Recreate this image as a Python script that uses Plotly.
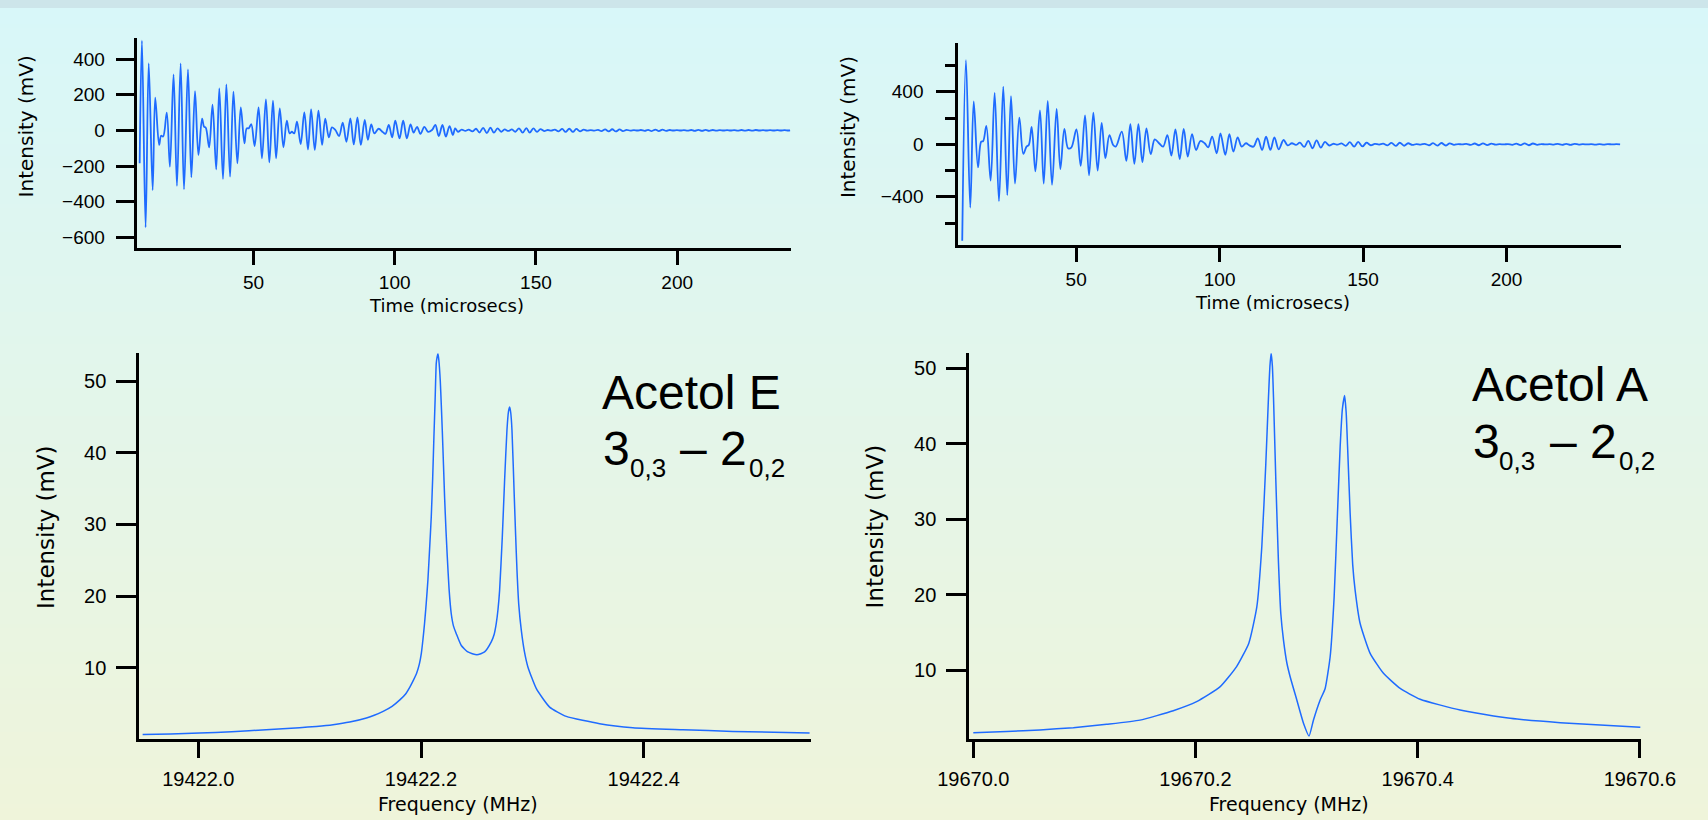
import plotly.graph_objects as go

# ---------------- data ----------------
# Free induction decay, Acetol E (time in microseconds, signal in mV)
fid_e_time = [
    9.7, 10.5, 11.8, 12.9, 14.3, 15.2, 16.6, 17.3, 18.0, 19.3, 20.4, 21.7, 22.9, 24.2, 25.4,
    26.8, 28.0, 29.3, 30.5, 31.8, 32.5, 33.1, 34.3, 35.5, 36.8, 37.9, 39.2, 40.4, 41.7, 42.9,
    44.3, 45.5, 46.8, 47.6, 48.3, 49.2, 50.4, 51.8, 53.0, 54.4, 55.6, 56.9, 58.0, 59.3, 60.6,
    61.8, 62.8, 63.6, 64.4, 65.4, 66.7, 68.0, 69.3, 70.4, 71.7, 73.0, 74.3, 75.4, 76.7, 77.8,
    79.0, 80.3, 81.6, 82.9, 84.3, 85.5, 86.8, 88.0, 89.4, 90.5, 91.7, 92.8, 94.3, 95.8, 96.7,
    97.9, 99.1, 100.2, 101.7, 103.0, 104.3, 105.6, 106.7, 107.9, 109.1, 110.5, 111.8, 113.2,
    114.4, 115.6, 116.9, 118.1, 119.4, 120.6, 121.4,
    122.4, 123.7, 125.0, 126.2, 127.5, 128.8, 130.0, 131.3, 132.6, 133.9, 135.1, 136.4, 137.7,
    138.9, 140.2, 141.5, 142.7, 144.0, 145.3, 146.6, 147.8, 149.1, 150.4, 151.6, 152.9, 154.2,
    155.4, 156.7, 158.0, 159.3, 160.5, 161.8, 163.1, 164.3, 165.6, 166.9, 168.1, 169.4, 170.7,
    172.0, 173.2, 174.5, 175.8, 177.0, 178.3, 179.6, 180.8, 182.1, 183.4, 184.7, 185.9, 187.2,
    188.5, 189.7, 191.0, 192.3, 193.5, 194.8, 196.1, 197.4, 198.6, 199.9, 201.2, 202.4, 203.7,
    205.0, 206.2, 207.5, 208.8, 210.1, 211.3, 212.6, 213.9, 215.1, 216.4, 217.7, 218.9, 220.2,
    221.5, 222.8, 224.0, 225.3, 226.6, 227.8, 229.1, 230.4, 231.6, 232.9, 234.2, 235.5, 236.7,
    238.0, 239.3, 240.0,
]
fid_e_signal = [
    -185, 503, -544, 376, -335, 183, -82, -30, -35, 99, -204, 314, -312, 376, -331,
    342, -264, 220, -138, 65, 20, 15, -95, 144, -219, 235, -273, 258, -260, 217,
    -185, 129, -73, 11, 11, 35, -88, 129, -157, 174, -180, 166, -157, 123, -95,
    54, -17, -8, -17, 49, -77, 101, -107, 118, -110, 110, -82, 65, -39, 17,
    2, -32, 43, -64, 67, -79, 73, -82, 58, -54, 34, -17, 9, -10, -20,
    30, -39, 54, -45, 54, -45, 34, -13, 20, -20, 20, -8, 2,
    30, -32, 30, -35, 24, -26, 11,
    -8, 4, -3, 4, -6, 9, -12, 14, -15, 15, -13, 11, -8,
    5, -3, 5, -8, 11, -13, 13, -13, 11, -9, 7, -4, 2,
    -2, 4, -6, 8, -9, 9, -9, 8, -6, 4, -2, 1, -2,
    3, -4, 5, -6, 6, -6, 5, -4, 3, -2, 1, -1, 2,
    -3, 3, -4, 4, -4, 4, -3, 2, -1, 1, -1, 1, -2,
    2, -3, 3, -3, 3, -3, 2, -2, 1, -1, 1, -1, 1,
    -2, 2, -2, 2, -2, 2, -1, 1, -1, 1, -1, 1, -1,
    1, -1, 0,
]

# Free induction decay, Acetol A
fid_a_time = [
    10.3, 11.6, 13.1, 14.3, 15.8, 16.9, 17.6, 18.7, 20.2, 21.6, 23.1, 24.6, 26.0, 27.3, 28.7,
    30.2, 31.6, 32.7, 33.5, 34.5, 35.8, 37.4, 38.7, 40.1, 41.6, 43.2, 44.5, 45.9, 47.2, 48.3,
    50.1, 51.6, 53.1, 54.5, 56.0, 57.5, 58.9, 60.2, 61.6, 62.9, 63.8, 65.9, 67.5, 68.9, 70.3,
    71.7, 73.1, 74.5, 76.0, 77.4, 78.9, 80.3, 81.8, 83.2, 84.6, 86.1, 87.5, 88.9, 90.4, 91.8,
    93.3, 94.8, 96.0, 97.4, 99.0, 100.3, 102.0, 103.4, 104.8, 106.3, 107.7, 109.2, 110.4, 111.8,
    113.3, 114.8, 116.2, 117.7, 119.1, 120.6, 122.3, 123.7, 125.2,
    126.6, 128.0, 129.5, 130.9, 132.4, 133.8, 135.3, 136.7, 138.2, 139.6, 141.1, 142.5, 144.0,
    145.4, 146.9, 148.3, 149.8, 151.2, 152.7, 154.1, 155.6, 157.0, 158.5, 159.9, 161.4, 162.8,
    164.3, 165.7, 167.2, 168.6, 170.1, 171.5, 173.0, 174.4, 175.9, 177.3, 178.8, 180.2, 181.7,
    183.1, 184.6, 186.0, 187.5, 188.9, 190.4, 191.8, 193.3, 194.7, 196.2, 197.6, 199.1, 200.5,
    202.0, 203.4, 204.9, 206.3, 207.8, 209.2, 210.7, 212.1, 213.6, 215.0, 216.5, 217.9, 219.4,
    220.8, 222.3, 223.7, 225.2, 226.6, 228.1, 229.5, 231.0, 232.4, 233.9, 235.3, 236.8, 238.2,
    239.6,
]
fid_a_signal = [
    -735, 642, -483, 327, -176, 20, 25, 141, -277, 392, -433, 440, -387, 367, -299,
    204, -73, -18, -5, 133, -206, 259, -299, 330, -309, 269, -189, 118, -30, -25,
    113, -164, 221, -236, 242, -201, 164, -106, 70, -5, -18, 96, -126, 153, -148,
    153, -136, 121, -75, 38, 8, -18, 70, -86, 113, -113, 118, -93, 78, -43,
    25, 8, -23, 58, -68, 83, -80, 78, -55, 53, -18, 8, -8, -18,
    45, -43, 58, -43, 53, -38, 33, -8, 8,
    -5, 12, -20, 26, -30, 30, -26, 18, -9, 4, -3, 7, -12,
    16, -18, 18, -16, 12, -7, 3, -2, 5, -8, 11, -12, 12,
    -11, 8, -5, 2, -2, 4, -7, 9, -10, 10, -9, 7, -4,
    2, -1, 3, -5, 6, -7, 7, -6, 5, -3, 1, -1, 2,
    -4, 5, -6, 7, -7, 6, -4, 2, -1, 1, -2, 3, -4,
    4, -4, 3, -2, 1, -1, 1, -2, 2, -2, 2, -1, 1,
    0,
]

# Spectrum of the 3(0,3) - 2(0,2) line, Acetol E (MHz, mV)
spec_e_freq = [
    19421.950, 19421.975, 19422.001, 19422.030, 19422.061, 19422.091, 19422.106, 19422.121,
    19422.136, 19422.151, 19422.158, 19422.166, 19422.174, 19422.181, 19422.186, 19422.190,
    19422.193, 19422.196, 19422.1985, 19422.2003, 19422.2018, 19422.2032, 19422.2047,
    19422.2062, 19422.2077, 19422.2092, 19422.2105, 19422.2116, 19422.2127, 19422.2137,
    19422.2145, 19422.2152, 19422.2160, 19422.2173, 19422.2182, 19422.2191, 19422.2202,
    19422.2212, 19422.2224, 19422.2236, 19422.2252, 19422.2272, 19422.2292, 19422.2317,
    19422.2362, 19422.2421, 19422.2502, 19422.2571, 19422.2631, 19422.2656, 19422.2676,
    19422.2692, 19422.2706, 19422.2730, 19422.2751, 19422.2772, 19422.2786, 19422.2796,
    19422.2806, 19422.2817, 19422.2838, 19422.2850, 19422.2862, 19422.2878, 19422.2901,
    19422.2928, 19422.2960, 19422.3036, 19422.3155, 19422.3305, 19422.3604, 19422.3903,
    19422.4352, 19422.4801, 19422.549,
]
spec_e_int = [
    0.68, 0.75, 0.87, 1.05, 1.34, 1.62, 1.8, 2.04,
    2.40, 2.97, 3.35, 3.9, 4.6, 5.5, 6.3, 7.3,
    8.2, 9.2, 10.5, 12.0, 14.0, 16.2, 19.0,
    22.2, 26.5, 31.0, 36.5, 42.2, 47.5, 52.5,
    53.4, 53.85, 53.0, 50.1, 46.8, 43.2, 38.3,
    33.8, 29.3, 25.5, 21.0, 17.5, 15.8, 14.75,
    13.1, 12.2, 11.8, 12.2, 13.6, 14.6, 16.2,
    18.2, 20.8, 28.2, 36.2, 43.2, 45.8, 46.4,
    45.6, 43.2, 33.8, 28.5, 23.6, 18.8, 15.2,
    12.3, 10.1, 7.07, 4.5, 3.2, 2.18, 1.62,
    1.34, 1.1, 0.87,
]

# Spectrum of the 3(0,3) - 2(0,2) line, Acetol A
spec_a_freq = [
    19670.000, 19670.030, 19670.060, 19670.090, 19670.120, 19670.150, 19670.180, 19670.201,
    19670.222, 19670.237, 19670.248, 19670.2552, 19670.2597, 19670.2633, 19670.2657,
    19670.2670, 19670.2681, 19670.2692, 19670.2702, 19670.2723, 19670.2747, 19670.2768,
    19670.2792, 19670.2822, 19670.2852, 19670.2912, 19670.2972, 19670.3022, 19670.3062,
    19670.3122, 19670.3167, 19670.3212, 19670.3248, 19670.3278, 19670.3302, 19670.3322,
    19670.3342, 19670.3356, 19670.3369, 19670.3392, 19670.3415, 19670.3437, 19670.3482,
    19670.3572, 19670.3692, 19670.3842, 19670.4022, 19670.4382, 19670.4833, 19670.5283,
    19670.6004,
]
spec_a_int = [
    1.74, 1.9, 2.1, 2.4, 2.85, 3.4, 4.65, 5.85,
    7.8, 10.5, 13.6, 18.4, 26.4, 37.4, 46.2,
    50.3, 52.0, 50.3, 46.2, 35.2, 24.2, 17.5,
    14.0, 11.0, 9.15, 6.07, 3.0, 1.3, 3.42,
    6.07, 7.6, 11.8, 19.75, 30.8, 39.6, 44.6,
    46.4, 44.2, 39.6, 30.8, 24.0, 20.6, 16.2,
    12.25, 9.6, 7.6, 6.16, 4.74, 3.64, 3.06,
    2.45,
]

fid_ticks = [50, 100, 150, 200]
fid_e_yticks = [-600, -400, -200, 0, 200, 400]
fid_a_yticks = [-400, 0, 400]
fid_a_yminor = [-600, -200, 200, 600]
spec_e_xticks = [19422.0, 19422.2, 19422.4]
spec_a_xticks = [19670.0, 19670.2, 19670.4, 19670.6]
spec_yticks = [10, 20, 30, 40, 50]

# ---------------- figure ----------------
W, H = 1708, 820
BLUE = "#1f6bff"
TICK_FONT = "Liberation Sans, Arial, sans-serif"
TITLE_FONT = "DejaVu Sans, sans-serif"


def px_x(a, b):
    return [a / W, b / W]


def px_y(top, bottom):
    return [1 - bottom / H, 1 - top / H]


fig = go.Figure()
fig.add_trace(go.Scatter(x=fid_e_time, y=fid_e_signal, mode="lines", xaxis="x", yaxis="y",
                         line=dict(color=BLUE, width=1.8, shape="spline", smoothing=1.0)))
fig.add_trace(go.Scatter(x=fid_a_time, y=fid_a_signal, mode="lines", xaxis="x2", yaxis="y2",
                         line=dict(color=BLUE, width=1.8, shape="spline", smoothing=1.0)))
fig.add_trace(go.Scatter(x=spec_e_freq, y=spec_e_int, mode="lines", xaxis="x3", yaxis="y3",
                         line=dict(color=BLUE, width=1.5, shape="spline", smoothing=0.5)))
fig.add_trace(go.Scatter(x=spec_a_freq, y=spec_a_int, mode="lines", xaxis="x4", yaxis="y4",
                         line=dict(color=BLUE, width=1.5, shape="spline", smoothing=0.5)))

axis_common = dict(showgrid=False, zeroline=False, showline=True, linecolor="black",
                   linewidth=3, ticks="outside", tickcolor="black", tickwidth=3,
                   automargin=False)

fig.update_layout(
    width=W, height=H,
    margin=dict(l=0, r=0, t=0, b=0, pad=0, autoexpand=False),
    paper_bgcolor="#d8f6f8",
    plot_bgcolor="rgba(0,0,0,0)",
    showlegend=False,
    xaxis=dict(axis_common, domain=px_x(136.7, 790.7), range=[8.65, 240.2], anchor="y",
               tickvals=fid_ticks, ticklen=14, ticklabelstandoff=1,
               tickfont=dict(family=TICK_FONT, size=19, color="black")),
    yaxis=dict(axis_common, domain=px_y(38, 248), range=[-660, 518], anchor="x",
               tickvals=fid_e_yticks, ticklen=18, ticklabelstandoff=7,
               tickfont=dict(family=TICK_FONT, size=19, color="black")),
    xaxis2=dict(axis_common, domain=px_x(958.3, 1620.7), range=[8.93, 239.8], anchor="y2",
                tickvals=fid_ticks, ticklen=14, ticklabelstandoff=1,
                tickfont=dict(family=TICK_FONT, size=19, color="black")),
    yaxis2=dict(axis_common, domain=px_y(42.7, 245), range=[-767, 774], anchor="x2",
                tickvals=fid_a_yticks, ticklen=19, ticklabelstandoff=9,
                minor=dict(tickvals=fid_a_yminor, ticks="outside", ticklen=10,
                           tickwidth=3, tickcolor="black"),
                tickfont=dict(family=TICK_FONT, size=19, color="black")),
    xaxis3=dict(axis_common, domain=px_x(139.3, 810.7), range=[19421.947, 19422.55], anchor="y3",
                tickvals=spec_e_xticks, tickformat=".1f", ticklen=16, ticklabelstandoff=4,
                tickfont=dict(family=TICK_FONT, size=20, color="black")),
    yaxis3=dict(axis_common, domain=px_y(353.3, 739.3), range=[0, 53.9], anchor="x3",
                tickvals=spec_yticks, ticklen=20, ticklabelstandoff=6,
                tickfont=dict(family=TICK_FONT, size=20, color="black")),
    xaxis4=dict(axis_common, domain=px_x(969.3, 1641), range=[19669.9964, 19670.601], anchor="y4",
                tickvals=spec_a_xticks, tickformat=".1f", ticklen=16, ticklabelstandoff=4,
                tickfont=dict(family=TICK_FONT, size=20, color="black")),
    yaxis4=dict(axis_common, domain=px_y(353.3, 739.3), range=[0.86, 52.0], anchor="x4",
                tickvals=spec_yticks, ticklen=20, ticklabelstandoff=6,
                tickfont=dict(family=TICK_FONT, size=20, color="black")),
)

# Background: thin frame strip on top, then a vertical cyan-to-cream gradient
shapes = [dict(type="rect", xref="paper", yref="paper", x0=0, x1=1,
               y0=1 - 8 / H, y1=1, fillcolor="#cde5ea", line=dict(width=0), layer="below")]
top_rgb = (216, 247, 249)
bot_rgb = (239, 244, 218)
step = 4
y = 8
while y < H:
    f = (y - 8) / (H - 8)
    col = "rgb({},{},{})".format(*[round(a + (b - a) * f) for a, b in zip(top_rgb, bot_rgb)])
    shapes.append(dict(type="rect", xref="paper", yref="paper", x0=0, x1=1,
                       y0=max(0, 1 - (y + step + 1) / H), y1=1 - y / H,
                       fillcolor=col, line=dict(width=0), layer="below"))
    y += step
fig.update_layout(shapes=shapes)


def label(text, x, y, size, family=TITLE_FONT, angle=0, xanchor="center"):
    fig.add_annotation(text=text, x=x / W, y=1 - y / H, xref="paper", yref="paper",
                       xanchor=xanchor, yanchor="middle", textangle=angle, showarrow=False,
                       borderpad=0, font=dict(family=family, size=size, color="black"))


# Axis titles
label("Time (microsecs)", 446.8, 305.5, 18)
label("Time (microsecs)", 1272.5, 302.0, 18)
label("Frequency (MHz)", 458.0, 804.1, 19)
label("Frequency (MHz)", 1288.8, 804.1, 19)
label("Intensity (mV)", 26.4, 126.0, 20, angle=-90)
label("Intensity (mV)", 848.1, 127.0, 20, angle=-90)
label("Intensity (mV)", 45.3, 526.7, 23, angle=-90)
label("Intensity (mV)", 874.7, 526.7, 23, angle=-90)


def transition(name, x0, name_base, line_base):
    """Species name and the 3(0,3) - 2(0,2) rotational transition with subscripts."""
    big, small = 48, 26
    mid_big = 0.3465 * big
    mid_small = 0.3465 * small
    sub_base = line_base + 11.7
    label(name, x0 - 1, name_base - mid_big, big, family=TICK_FONT, xanchor="left")
    label("3", x0, line_base - mid_big, big, family=TICK_FONT, xanchor="left")
    label("0,3", x0 + 26.7, sub_base - mid_small, small, family=TICK_FONT, xanchor="left")
    label("\u2013 2", x0 + 77.0, line_base - mid_big, big, family=TICK_FONT, xanchor="left")
    label("0,2", x0 + 146.0, sub_base - mid_small, small, family=TICK_FONT, xanchor="left")


transition("Acetol E", 602.3, 409.3, 465.0)
transition("Acetol A", 1471.7, 401.0, 458.3)

fig.write_html("out.html")
